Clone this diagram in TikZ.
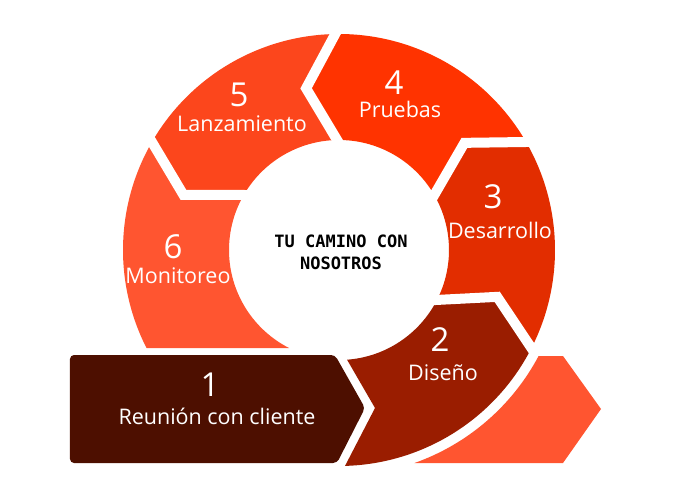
\documentclass[tikz,border=0pt]{standalone}
\usepackage{fontspec}
\setmainfont{Open Sans}
\setmonofont{DejaVu Sans Mono}
\usetikzlibrary{calc}

\definecolor{paso1}{HTML}{4D0F00}
\definecolor{paso2}{HTML}{9A1D00}
\definecolor{paso3}{HTML}{E22D00}
\definecolor{paso4}{HTML}{FF3300}
\definecolor{paso5}{HTML}{FC461C}
\definecolor{paso6}{HTML}{FF5530}

\begin{document}
\begin{tikzpicture}[x=1pt, y=1pt,
  gap line/.style={white, line width=10pt, line join=miter, shorten >=-#1, shorten <=-#1},
  gap line/.default=6pt,
  numero/.style={text=white, font=\fontsize{33}{33}\selectfont},
  rotulo/.style={text=white, font=\fontsize{21.5}{25}\selectfont}]
    % origem no centro do anel
    \useasboundingbox (-339,-253) rectangle (335,250);
    \def\Rout{216}
    \def\Rin{110}
    \def\Rmid{165}

    % segmentos 3, 4 e 5: ponta no fim, entalhe no inicio
    \foreach \a/\b/\cor in {-27/30/paso3, 30/91/paso4, 91/150/paso5}
        \fill[\cor] (\a:\Rout) arc[start angle=\a, end angle=\b, radius=\Rout pt]
            -- ({\b+10.5}:\Rmid) -- (\b:\Rin)
            arc[start angle=\b, end angle=\a, radius=\Rin pt]
            -- ({\a+10.5}:\Rmid) -- cycle;

    % segmento 2
    \fill[paso2] (-88.4:\Rout) arc[start angle=-88.4, end angle=-27, radius=\Rout pt]
        -- (-16.5:\Rmid) -- (-27:\Rin)
        arc[start angle=-27, end angle=-85.8, radius=\Rin pt]
        -- (36,-158) -- cycle;

    % segmento 6, cortado embaixo
    \fill[paso6] (150:\Rout) arc[start angle=150, end angle=207, radius=\Rout pt]
        -- (243:\Rin) arc[start angle=243, end angle=150, radius=\Rin pt]
        -- (160.5:\Rmid) -- cycle;

    % separacoes brancas
    \foreach \t in {-27,30,91,150}
        \draw[gap line] (\t:\Rout) -- ({\t+10.5}:\Rmid) -- (\t:\Rin);

    % caixa do passo 1
    \fill[paso1, rounded corners=4pt] (-269,-105) -- (-4,-105) -- (26,-158)
        -- (-2,-213) -- (-269,-213) -- cycle;

    % peca solta embaixo a direita
    \fill[paso6] (-70.5:226) -- (224,-213) -- (262,-159) -- (224,-106)
        -- (-28:226) arc[start angle=-28, end angle=-70.5, radius=226pt] -- cycle;

    \node[numero] (n1) at (-129,-135) {1};
    \node[rotulo] (t1) at (-122,-166) {Reunión con cliente};
    \node[numero] (n2) at (101,-90) {2};
    \node[rotulo] (t2) at (104,-123) {Diseño};
    \node[numero] (n3) at (154,53) {3};
    \node[rotulo] (t3) at (161,20) {Desarrollo};
    \node[numero] (n4) at (55,167) {4};
    \node[rotulo] (t4) at (61,141) {Pruebas};
    \node[numero] (n5) at (-100,155) {5};
    \node[rotulo] (t5) at (-97,126) {Lanzamiento};
    \node[numero] (n6) at (-166,3) {6};
    \node[rotulo] (t6) at (-161,-26) {Monitoreo};

    \node[font=\ttfamily\bfseries\fontsize{17}{22}\selectfont, align=center] (centro) at (2,-2)
        {TU CAMINO CON\\NOSOTROS};
\end{tikzpicture}
\end{document}
